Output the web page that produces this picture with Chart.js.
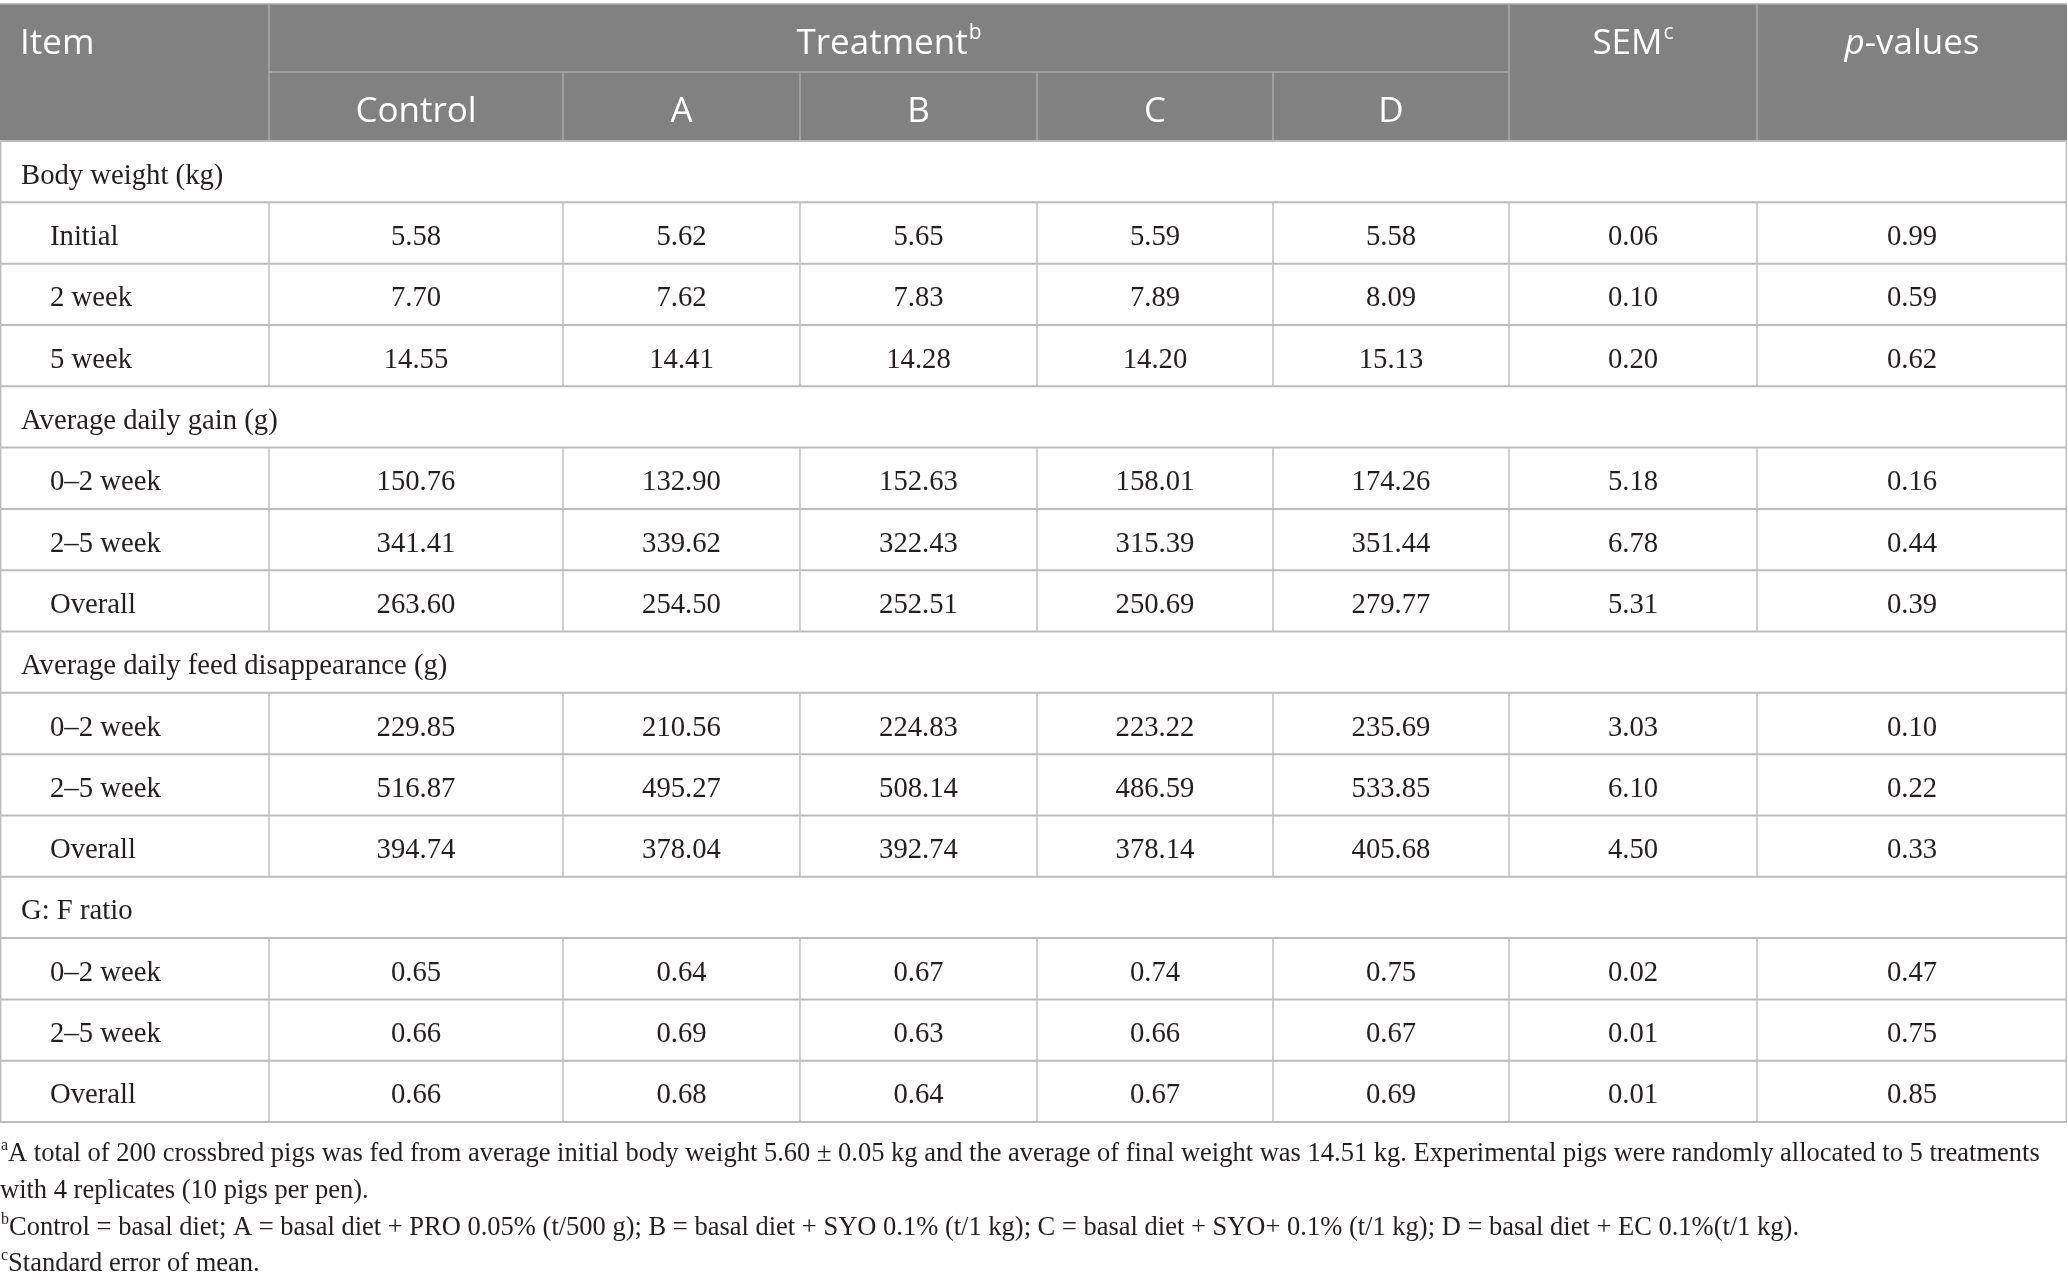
<!DOCTYPE html>
<html>
<head>
<meta charset="utf-8">
<title>Growth performance table</title>
<script src="https://cdn.jsdelivr.net/npm/chart.js@4.4.0/dist/chart.umd.min.js"></script>
<style>
  html, body { margin: 0; padding: 0; background: #fff; }
  #wrap { width: 2068px; height: 1288px; }
</style>
</head>
<body>
<div id="wrap"><canvas id="tableChart" width="2068" height="1288"></canvas></div>
<script>
const sections = ['Body weight (kg)', 'Average daily gain (g)', 'Average daily feed disappearance (g)', 'G: F ratio'];
const periods = [
    ['Initial', '2 week', '5 week'],
    ['0–2 week', '2–5 week', 'Overall'],
    ['0–2 week', '2–5 week', 'Overall'],
    ['0–2 week', '2–5 week', 'Overall']
];
const treatments = ['Control', 'A', 'B', 'C', 'D'];

const control = [5.58, 7.70, 14.55, 150.76, 341.41, 263.60, 229.85, 516.87, 394.74, 0.65, 0.66, 0.66];
const trtA    = [5.62, 7.62, 14.41, 132.90, 339.62, 254.50, 210.56, 495.27, 378.04, 0.64, 0.69, 0.68];
const trtB    = [5.65, 7.83, 14.28, 152.63, 322.43, 252.51, 224.83, 508.14, 392.74, 0.67, 0.63, 0.64];
const trtC    = [5.59, 7.89, 14.20, 158.01, 315.39, 250.69, 223.22, 486.59, 378.14, 0.74, 0.66, 0.67];
const trtD    = [5.58, 8.09, 15.13, 174.26, 351.44, 279.77, 235.69, 533.85, 405.68, 0.75, 0.67, 0.69];
const sem     = [0.06, 0.10, 0.20, 5.18, 6.78, 5.31, 3.03, 6.10, 4.50, 0.02, 0.01, 0.01];
const pValues = [0.99, 0.59, 0.62, 0.16, 0.44, 0.39, 0.10, 0.22, 0.33, 0.47, 0.75, 0.85];

const footnotes = [
    ['a', 'A total of 200 crossbred pigs was fed from average initial body weight 5.60 ± 0.05 kg and the average of final weight was 14.51 kg. Experimental pigs were randomly allocated to 5 treatments'],
    ['', 'with 4 replicates (10 pigs per pen).'],
    ['b', 'Control = basal diet; A = basal diet + PRO 0.05% (t/500 g); B = basal diet + SYO 0.1% (t/1 kg); C = basal diet + SYO+ 0.1% (t/1 kg); D = basal diet + EC 0.1%(t/1 kg).'],
    ['c', 'Standard error of mean.']
];

// --- layout (column widths in px units of the x scale) ---
const colWidths = [269, 294, 237, 237, 236, 236, 248, 310];
const colEdges = colWidths.reduce((acc, w) => { acc.push(acc[acc.length - 1] + w); return acc; }, [0]);

// rows: section headers + period rows
const rowLabels = [];
const rowKinds = [];
const rowIndex = [];
let k = 0;
sections.forEach((s, i) => {
    rowLabels.push(s); rowKinds.push('section'); rowIndex.push(-1);
    periods[i].forEach(p => {
        rowLabels.push(p); rowKinds.push('period'); rowIndex.push(k++);
    });
});
const valueCols = [control, trtA, trtB, trtC, trtD, sem, pValues];

const SERIF = '"Liberation Serif", "DejaVu Serif", serif';
const SANS = '"Open Sans", "Noto Sans", sans-serif';
const HEADER_TOP = 4;
const HEADER_SPLIT = 72;

function drawSup(ctx, text, sup, x, y, size, font, align) {
    ctx.font = `${size}px ${font}`;
    const w = ctx.measureText(text).width;
    ctx.font = `${Math.round(size * 0.6)}px ${font}`;
    const ws = sup ? ctx.measureText(sup).width + 1 : 0;
    let start = x;
    if (align === 'center') start = x - (w + ws) / 2;
    ctx.textAlign = 'left';
    ctx.font = `${size}px ${font}`;
    ctx.fillText(text, start, y);
    if (sup) {
        ctx.font = `${Math.round(size * 0.6)}px ${font}`;
        ctx.fillText(sup, start + w + 1, y - size * 0.32);
    }
}

const tablePlugin = {
    id: 'tableDraw',
    afterDraw(chart) {
        const { ctx, chartArea, scales: { x, y } } = chart;
        const px = v => x.getPixelForValue(v);
        const left = px(colEdges[0]);
        const right = px(colEdges[colEdges.length - 1]);
        const bandH = (chartArea.bottom - chartArea.top) / rowLabels.length;
        const top = chartArea.top;

        ctx.save();

        // header block
        ctx.fillStyle = '#808180';
        ctx.fillRect(left, HEADER_TOP, right - left, top - HEADER_TOP);
        ctx.strokeStyle = '#a9a9a9';
        ctx.lineWidth = 1.5;
        ctx.beginPath();
        ctx.moveTo(left, HEADER_TOP); ctx.lineTo(right, HEADER_TOP);
        ctx.moveTo(px(colEdges[1]), HEADER_SPLIT); ctx.lineTo(px(colEdges[6]), HEADER_SPLIT);
        [1, 6, 7].forEach(c => { ctx.moveTo(px(colEdges[c]), HEADER_TOP); ctx.lineTo(px(colEdges[c]), top); });
        [2, 3, 4, 5].forEach(c => { ctx.moveTo(px(colEdges[c]), HEADER_SPLIT); ctx.lineTo(px(colEdges[c]), top); });
        ctx.stroke();

        ctx.fillStyle = '#ffffff';
        ctx.textBaseline = 'middle';
        const h1 = HEADER_TOP + 40;
        const h2 = HEADER_SPLIT + 40;
        ctx.textAlign = 'left';
        ctx.font = `35px ${SANS}`;
        ctx.fillText('Item', left + 20, h1);
        drawSup(ctx, 'Treatment', 'b', (px(colEdges[1]) + px(colEdges[6])) / 2, h1, 35, SANS, 'center');
        drawSup(ctx, 'SEM', 'c', (px(colEdges[6]) + px(colEdges[7])) / 2, h1, 35, SANS, 'center');
        // p-values with italic p
        ctx.font = `italic 35px ${SANS}`;
        const wp = ctx.measureText('p').width;
        ctx.font = `35px ${SANS}`;
        const wr = ctx.measureText('-values').width;
        const pc = (px(colEdges[7]) + px(colEdges[8])) / 2 - (wp + wr) / 2;
        ctx.font = `italic 35px ${SANS}`;
        ctx.fillText('p', pc, h1);
        ctx.font = `35px ${SANS}`;
        ctx.fillText('-values', pc + wp, h1);
        ctx.textAlign = 'center';
        treatments.forEach((t, i) => {
            ctx.fillText(t, (px(colEdges[i + 1]) + px(colEdges[i + 2])) / 2, h2);
        });

        // body grid
        ctx.strokeStyle = '#bcbcbc';
        ctx.lineWidth = 2;
        ctx.beginPath();
        for (let r = 0; r <= rowLabels.length; r++) {
            const yy = top + r * bandH;
            ctx.moveTo(left, yy); ctx.lineTo(right, yy);
        }
        ctx.stroke();
        ctx.lineWidth = 1.4;
        ctx.beginPath();
        ctx.moveTo(left + 0.7, top); ctx.lineTo(left + 0.7, chartArea.bottom);
        ctx.moveTo(right - 0.7, top); ctx.lineTo(right - 0.7, chartArea.bottom);
        rowLabels.forEach((lab, r) => {
            if (rowKinds[r] !== 'period') return;
            const yc = y.getPixelForValue(r);
            for (let c = 1; c < colEdges.length - 1; c++) {
                ctx.moveTo(px(colEdges[c]), yc - bandH / 2);
                ctx.lineTo(px(colEdges[c]), yc + bandH / 2);
            }
        });
        ctx.stroke();

        // body text
        ctx.fillStyle = '#231f20';
        ctx.font = `28.7px ${SERIF}`;
        ctx.textBaseline = 'middle';
        rowLabels.forEach((lab, r) => {
            const yc = y.getPixelForValue(r) + 4.5;
            ctx.textAlign = 'left';
            if (rowKinds[r] === 'section') {
                ctx.fillText(lab, left + 21, yc);
                return;
            }
            ctx.fillText(lab, left + 50, yc);
            ctx.textAlign = 'center';
            valueCols.forEach((col, c) => {
                const cx = (px(colEdges[c + 1]) + px(colEdges[c + 2])) / 2;
                ctx.fillText(col[rowIndex[r]].toFixed(2), cx, yc);
            });
        });

        // footnotes
        const fy = [1154, 1191, 1228, 1264];
        ctx.textBaseline = 'middle';
        footnotes.forEach((f, i) => {
            let xx = left;
            if (f[0]) {
                ctx.font = `16px ${SERIF}`;
                ctx.textAlign = 'left';
                ctx.fillText(f[0], xx + 1, fy[i] - 8);
                xx += ctx.measureText(f[0]).width + 1;
            }
            ctx.font = `26.5px ${SERIF}`;
            ctx.textAlign = 'left';
            ctx.fillText(f[1], xx, fy[i]);
        });

        ctx.restore();
    }
};

new Chart(document.getElementById('tableChart'), {
    type: 'scatter',
    data: {
        labels: rowLabels,
        datasets: []
    },
    options: {
        responsive: false,
        animation: false,
        devicePixelRatio: 1,
        layout: { padding: { left: 0, right: 1, top: 141, bottom: 166 } },
        plugins: { legend: { display: false }, tooltip: { enabled: false } },
        scales: {
            x: { type: 'linear', min: colEdges[0], max: colEdges[colEdges.length - 1], display: false },
            y: { type: 'category', labels: rowLabels, offset: true, display: false }
        }
    },
    plugins: [tablePlugin]
});
</script>
</body>
</html>
